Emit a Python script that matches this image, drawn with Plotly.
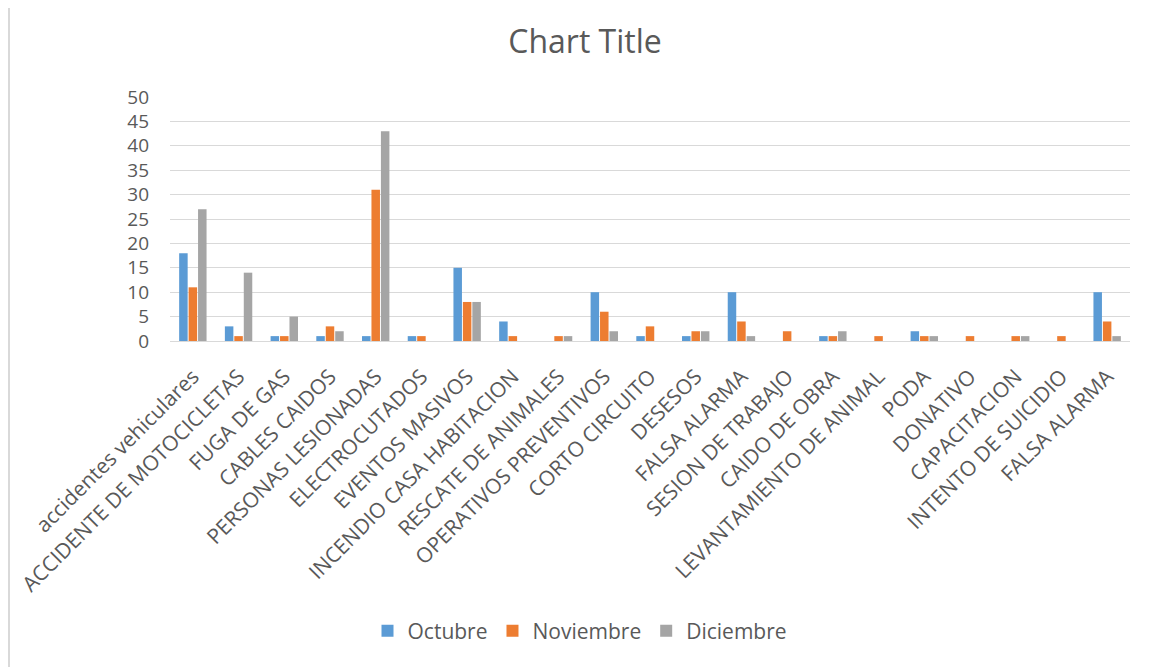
import plotly.graph_objects as go

categories = [
    "accidentes vehiculares", "ACCIDENTE DE MOTOCICLETAS", "FUGA DE GAS", "CABLES CAIDOS",
    "PERSONAS LESIONADAS", "ELECTROCUTADOS", "EVENTOS MASIVOS", "INCENDIO CASA HABITACION",
    "RESCATE DE ANIMALES", "OPERATIVOS PREVENTIVOS", "CORTO CIRCUITO", "DESESOS",
    "FALSA ALARMA", "SESION DE TRABAJO", "CAIDO DE OBRA", "LEVANTAMIENTO DE ANIMAL",
    "PODA", "DONATIVO", "CAPACITACION", "INTENTO DE SUICIDIO", "FALSA ALARMA",
]
octubre = [18, 3, 1, 1, 1, 1, 15, 4, 0, 10, 1, 1, 10, 0, 1, 0, 2, 0, 0, 0, 10]
noviembre = [11, 1, 1, 3, 31, 1, 8, 1, 1, 6, 3, 2, 4, 2, 1, 1, 1, 1, 1, 1, 4]
diciembre = [27, 14, 5, 2, 43, 0, 8, 0, 1, 2, 0, 2, 1, 0, 2, 0, 1, 0, 1, 0, 1]
y_ticks = [0, 5, 10, 15, 20, 25, 30, 35, 40, 45, 50]

positions = list(range(len(categories)))

series = [
    ("Octubre", octubre, "#5b9bd5"),
    ("Noviembre", noviembre, "#ed7d31"),
    ("Diciembre", diciembre, "#a5a5a5"),
]

fig = go.Figure()
for name, vals, color in series:
    fig.add_trace(go.Bar(
        x=positions, y=vals, name=name,
        marker=dict(color=color, line=dict(width=0)),
    ))

FONT = "'Open Sans', Lato, sans-serif"
TXT = "#595959"

# page has an 8px body margin; figure is sized to fit the 1161x667 window
OFF = 8
W, H = 1161 - OFF, 667 - OFF
PL, PR, PT, PB = 170, 1130, 97, 341  # plot area in page pixels
PW, PH = PR - PL, PB - PT

fig.update_layout(
    width=W, height=H,
    margin=dict(l=PL - OFF, r=W - (PR - OFF), t=PT - OFF, b=H - (PB - OFF), autoexpand=False),
    paper_bgcolor="white", plot_bgcolor="white",
    barmode="group", bargap=0.38, bargroupgap=0.1,
    font=dict(family=FONT, color=TXT),
    title=dict(text="Chart Title", x=(585 - PL) / PW, xanchor="center",
               y=1 - (42 - OFF) / H, yanchor="middle",
               xref="paper", font=dict(size=32, color=TXT, family=FONT)),
    showlegend=True,
    legend=dict(orientation="h", x=(580 - PL) / PW, xanchor="center", y=(PB - 631) / PH, yanchor="middle",
                font=dict(size=21, color=TXT), traceorder="normal", itemwidth=30),
    xaxis=dict(
        tickmode="array", tickvals=positions, ticktext=categories, tickangle=-45,
        tickfont=dict(size=21, color=TXT), range=[-0.5, len(categories) - 0.5],
        showgrid=False, showline=True, linecolor="#d9d9d9", linewidth=1, ticks="",
        zeroline=False, automargin=False, ticklabelstandoff=14,
    ),
    yaxis=dict(
        range=[0, 50], tickmode="array", tickvals=y_ticks,
        tickfont=dict(size=19, color=TXT), showgrid=True, gridcolor="#d9d9d9", gridwidth=1,
        zeroline=False, showline=False, ticks="", ticklabelstandoff=20, automargin=False,
    ),
    shapes=[
        dict(type="line", xref="paper", yref="paper", x0=(9 - PL) / PW, x1=(9 - PL) / PW,
             y0=-1.4, y1=1.45, line=dict(color="#d9d9d9", width=2)),
        dict(type="line", xref="paper", yref="paper", x0=(1160 - PL) / PW, x1=(1160 - PL) / PW,
             y0=-1.4, y1=1.45, line=dict(color="#d9d9d9", width=1.5)),
    ],
)

fig.write_html("out.html")
